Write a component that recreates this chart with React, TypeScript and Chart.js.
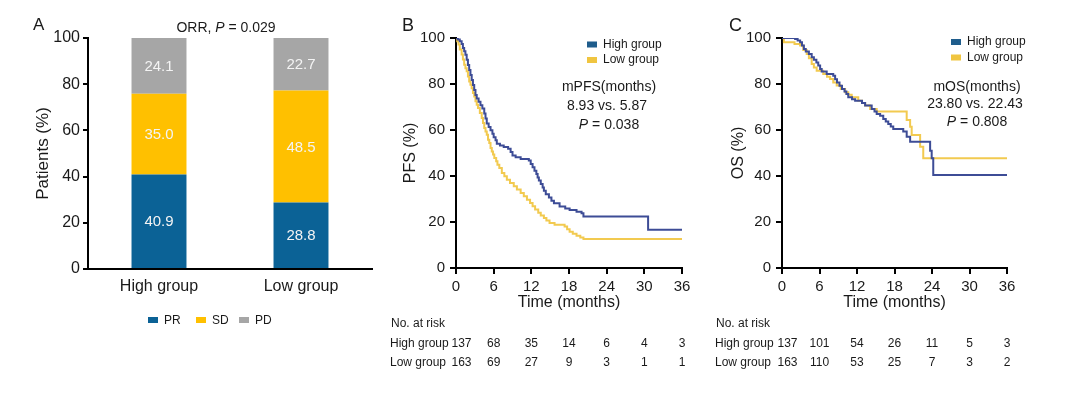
import React, { useEffect, useRef } from "react";
import { Chart, registerables } from "chart.js";
Chart.register(...registerables);

const FONT = '"Liberation Sans", Arial, Helvetica, sans-serif';
const TXT = "#1a1a1a";

// ---------- Panel A data ----------
const groups = ["High group", "Low group"];
const responseLabels = ["PR", "SD", "PD"];
const prValues = [40.9, 28.8];
const sdValues = [35.0, 48.5];
const pdValues = [24.1, 22.7];
const percentTicks = [0, 20, 40, 60, 80, 100];

// ---------- Panel B (PFS) data ----------
const pfsHighTime = [0, 0.3, 0.6, 0.9, 1.1, 1.3, 1.5, 1.7, 1.9, 2.1, 2.3, 2.5, 2.7, 2.9, 3.1, 3.3, 3.6, 3.9, 4.2, 4.5, 4.7, 4.9, 5.2, 5.5, 5.8, 6.0, 6.3, 6.5, 7.0, 7.6, 8.3, 8.7, 9.0, 9.5, 10.3, 11.6, 11.9, 12.2, 12.5, 12.8, 13.0, 13.2, 13.5, 13.8, 14.0, 14.3, 14.8, 15.2, 15.6, 16.5, 17.4, 18.1, 19.2, 20.0, 20.3, 30.6, 36];
const pfsHighSurv = [100, 99.3, 98.6, 97.4, 95.6, 94.2, 92.7, 90.5, 88.3, 86.1, 83.9, 81.7, 79.6, 77.4, 75.2, 73.7, 72.3, 70.8, 69.3, 67.2, 65.0, 62.8, 61.3, 59.9, 58.4, 56.9, 55.5, 54.0, 53.3, 52.6, 51.8, 50.4, 48.9, 48.2, 47.4, 46.7, 45.2, 43.8, 42.3, 40.9, 39.4, 38.0, 36.5, 35.0, 33.6, 32.1, 30.7, 29.2, 28.1, 26.7, 25.9, 25.2, 24.5, 23.8, 22.4, 16.6, 16.6];
const pfsLowTime = [0, 0.2, 0.4, 0.6, 0.9, 1.1, 1.3, 1.5, 1.7, 1.9, 2.1, 2.3, 2.5, 2.7, 2.9, 3.1, 3.3, 3.5, 3.8, 4.1, 4.3, 4.5, 4.7, 4.9, 5.1, 5.3, 5.5, 5.7, 5.9, 6.1, 6.4, 6.6, 6.9, 7.3, 7.7, 8.1, 8.6, 9.2, 9.7, 10.3, 10.8, 11.3, 11.8, 12.2, 12.6, 13.1, 13.5, 14.0, 14.4, 14.9, 15.7, 17.3, 17.7, 18.1, 18.6, 19.2, 19.8, 20.3, 36];
const pfsLowSurv = [100, 98.6, 97.2, 95.0, 92.8, 90.6, 88.4, 86.9, 85.5, 83.3, 81.1, 79.7, 78.2, 76.1, 74.6, 72.5, 71.0, 69.6, 67.4, 65.2, 63.0, 60.9, 59.4, 57.9, 55.8, 54.3, 52.2, 50.7, 49.3, 47.8, 46.4, 44.9, 43.5, 41.3, 39.9, 38.4, 37.0, 35.5, 34.1, 32.6, 31.2, 29.7, 28.3, 26.8, 25.4, 24.0, 22.8, 21.7, 20.6, 19.6, 18.8, 18.0, 16.9, 15.8, 14.9, 14.0, 13.3, 12.6, 12.6];

// ---------- Panel C (OS) data ----------
const osHighTime = [0, 2.1, 2.5, 2.9, 3.2, 3.5, 3.8, 4.3, 4.75, 5.1, 5.5, 5.8, 6.1, 6.35, 7.15, 8.2, 8.5, 8.8, 9.2, 9.6, 10.0, 10.3, 10.6, 11.2, 11.7, 12.8, 13.3, 14.35, 14.8, 15.15, 15.7, 16.2, 16.6, 17.0, 17.4, 17.8, 19.4, 19.95, 20.5, 23.7, 23.95, 24.2, 36];
const osHighSurv = [100, 99.6, 98.9, 98.1, 96.7, 95.2, 94.1, 93.0, 91.6, 90.5, 89.4, 88.0, 86.5, 85.4, 84.3, 83.6, 82.1, 80.7, 79.2, 77.8, 76.7, 75.6, 74.2, 73.4, 72.7, 71.7, 70.6, 69.1, 68.0, 67.0, 66.2, 64.8, 63.7, 62.6, 61.5, 60.4, 59.3, 57.1, 54.9, 51.0, 47.7, 40.4, 40.4];
const osLowTime = [0, 0.3, 2.0, 2.9, 3.4, 3.95, 4.3, 4.75, 5.1, 5.55, 6.6, 7.2, 7.7, 8.2, 8.75, 9.4, 10.1, 10.6, 11.15, 12.2, 12.8, 13.3, 14.1, 15.15, 19.95, 20.5, 20.75, 22.1, 22.6, 36];
const osLowSurv = [100, 98.1, 97.4, 96.7, 94.8, 93.0, 91.2, 88.7, 87.2, 85.8, 84.3, 83.2, 82.2, 80.7, 79.3, 77.8, 76.4, 75.3, 74.2, 72.7, 71.7, 70.6, 69.1, 68.0, 64.3, 61.4, 57.8, 52.7, 47.7, 47.7];

// ---------- Risk tables ----------
const riskTimes = [0, 6, 12, 18, 24, 30, 36];
const pfsRiskHigh = [137, 68, 35, 14, 6, 4, 3];
const pfsRiskLow = [163, 69, 27, 9, 3, 1, 1];
const osRiskHigh = [137, 101, 54, 26, 11, 5, 3];
const osRiskLow = [163, 110, 53, 25, 7, 3, 2];
const seriesNames = ["High group", "Low group"];

// ---------- Colors ----------
const PR_COLOR = "#0b6296";
const SD_COLOR = "#ffc000";
const PD_COLOR = "#a6a6a6";
const HIGH_LINE = "#3d4c96";
const LOW_LINE = "#f2ca50";
const HIGH_KEY = "#1f5d8c";
const LOW_KEY = "#f0c540";

type Part = [string, boolean];

function drawParts(ctx: CanvasRenderingContext2D, parts: Part[], cx: number, cy: number, size: number, color = TXT) {
  ctx.save();
  ctx.fillStyle = color;
  ctx.textBaseline = "middle";
  ctx.textAlign = "left";
  const fonts = parts.map(([, it]) => `${it ? "italic " : ""}${size}px ${FONT}`);
  let total = 0;
  const widths = parts.map(([t], i) => {
    ctx.font = fonts[i];
    const w = ctx.measureText(t).width;
    total += w;
    return w;
  });
  let x = cx - total / 2;
  parts.forEach(([t], i) => {
    ctx.font = fonts[i];
    ctx.fillText(t, x, cy);
    x += widths[i];
  });
  ctx.restore();
}

function drawText(ctx: CanvasRenderingContext2D, t: string, x: number, y: number, size: number, align: CanvasTextAlign = "left", color = TXT, baseline: CanvasTextBaseline = "middle") {
  ctx.save();
  ctx.font = `${size}px ${FONT}`;
  ctx.fillStyle = color;
  ctx.textAlign = align;
  ctx.textBaseline = baseline;
  ctx.fillText(t, x, y);
  ctx.restore();
}

function makeA(canvas: HTMLCanvasElement) {
  const values = [prValues, sdValues, pdValues];
  const colors = [PR_COLOR, SD_COLOR, PD_COLOR];
  const plugin = {
    id: "panelA",
    afterDatasetsDraw(chart: any) {
      const ctx = chart.ctx as CanvasRenderingContext2D;
      values.forEach((vals, i) => {
        const meta = chart.getDatasetMeta(i);
        meta.data.forEach((bar: any, j: number) => {
          const { x, y, base } = bar.getProps(["x", "y", "base"], true);
          drawText(ctx, vals[j].toFixed(1), x, (y + base) / 2 + 1, 15, "center", "#f4f4f4");
        });
      });
    },
    afterDraw(chart: any) {
      const ctx = chart.ctx as CanvasRenderingContext2D;
      drawText(ctx, "A", 33, 30, 17, "left", TXT, "alphabetic");
      drawParts(ctx, [["ORR, ", false], ["P", true], [" = 0.029", false]], 226, 28, 14);
      const keyX = [148, 196, 239];
      responseLabels.forEach((lab, i) => {
        ctx.save();
        ctx.fillStyle = colors[i];
        ctx.fillRect(keyX[i], 317, 10, 6);
        ctx.restore();
        drawText(ctx, lab, keyX[i] + 16, 320.5, 12);
      });
    },
  };
  return new Chart(canvas, {
    type: "bar",
    data: {
      labels: groups,
      datasets: responseLabels.map((lab, i) => ({
        label: lab,
        data: values[i],
        backgroundColor: colors[i],
        borderWidth: 0,
        categoryPercentage: 1,
        barPercentage: 0.387,
      })),
    },
    options: {
      animation: false,
      responsive: false,
      layout: { padding: { left: 29, right: 8, top: 38, bottom: 86 } },
      plugins: { legend: { display: false }, tooltip: { enabled: false }, title: { display: false } },
      scales: {
        x: {
          stacked: true,
          grid: { display: false, drawTicks: false },
          border: { display: true, color: "#000", width: 2 },
          ticks: { color: TXT, font: { size: 16 }, padding: 8 },
          afterFit: (s: any) => { s.height = 40; },
        },
        y: {
          stacked: true,
          min: 0,
          max: 100,
          afterBuildTicks: (s: any) => { s.ticks = percentTicks.map((v) => ({ value: v })); },
          ticks: { color: TXT, font: { size: 16 }, padding: 3 },
          grid: { display: true, drawOnChartArea: false, drawTicks: true, tickLength: 5, color: "#000", lineWidth: 2 },
          border: { display: true, color: "#000", width: 2 },
          title: { display: true, text: "Patients (%)", color: TXT, font: { size: 17 }, padding: { top: 4, bottom: 4 } },
          afterFit: (s: any) => { s.width = 59; },
        },
      },
    },
    plugins: [plugin],
  } as any);
}

interface KMCfg {
  letter: string;
  letterX: number;
  yTitle: string;
  padLeft: number;
  yWidth: number;
  padRight: number;
  highT: number[];
  highS: number[];
  lowT: number[];
  lowS: number[];
  keyX: number;
  keyY: [number, number];
  noteX: number;
  noteY: [number, number, number];
  noteTitle: string;
  noteVs: string;
  noteP: string;
  riskHigh: number[];
  riskLow: number[];
  riskLabelX: number;
}

function kmDataset(label: string, times: number[], surv: number[], color: string) {
  return {
    label,
    data: times.map((t, i) => ({ x: t, y: surv[i] })),
    borderColor: color,
    backgroundColor: color,
    borderWidth: 2,
    pointRadius: 0,
    stepped: "before",
    fill: false,
    tension: 0,
  };
}

function makeKM(canvas: HTMLCanvasElement, cfg: KMCfg) {
  const plugin = {
    id: "km" + cfg.letter,
    afterDraw(chart: any) {
      const ctx = chart.ctx as CanvasRenderingContext2D;
      drawText(ctx, cfg.letter, cfg.letterX, 31, 18, "left", TXT, "alphabetic");
      [HIGH_KEY, LOW_KEY].forEach((c, i) => {
        ctx.save();
        ctx.fillStyle = c;
        ctx.fillRect(cfg.keyX, cfg.keyY[i] - 3, 10, 6);
        ctx.restore();
        drawText(ctx, seriesNames[i], cfg.keyX + 16, cfg.keyY[i], 12);
      });
      drawText(ctx, cfg.noteTitle, cfg.noteX, cfg.noteY[0], 14, "center");
      drawText(ctx, cfg.noteVs, cfg.noteX - 2, cfg.noteY[1], 14, "center");
      drawParts(ctx, [["P", true], [" = " + cfg.noteP, false]], cfg.noteX, cfg.noteY[2], 14);
      const xs = chart.scales.x;
      drawText(ctx, "No. at risk", cfg.riskLabelX + 1, 324, 12);
      drawText(ctx, seriesNames[0], cfg.riskLabelX, 343.5, 12);
      drawText(ctx, seriesNames[1], cfg.riskLabelX, 363, 12);
      riskTimes.forEach((t, i) => {
        const px = xs.getPixelForValue(t) + (i === 0 ? 5.5 : 0);
        drawText(ctx, String(cfg.riskHigh[i]), px, 343.5, 12, "center");
        drawText(ctx, String(cfg.riskLow[i]), px, 363, 12, "center");
      });
    },
  };
  const axisGrid = { display: true, drawOnChartArea: false, drawTicks: true, tickLength: 6, color: "#000", lineWidth: 2 };
  return new Chart(canvas, {
    type: "line",
    data: {
      datasets: [
        kmDataset(seriesNames[0], cfg.highT, cfg.highS, HIGH_LINE),
        kmDataset(seriesNames[1], cfg.lowT, cfg.lowS, LOW_LINE),
      ],
    },
    options: {
      animation: false,
      responsive: false,
      layout: { padding: { left: cfg.padLeft, right: cfg.padRight, top: 38, bottom: 79 } },
      plugins: { legend: { display: false }, tooltip: { enabled: false }, title: { display: false } },
      scales: {
        x: {
          type: "linear",
          min: 0,
          max: 36,
          afterBuildTicks: (s: any) => { s.ticks = riskTimes.map((v) => ({ value: v })); },
          ticks: { color: TXT, font: { size: 15 }, padding: 4 },
          grid: axisGrid,
          border: { display: true, color: "#000", width: 2 },
          title: { display: true, text: "Time (months)", color: TXT, font: { size: 16 }, padding: { top: 4, bottom: 4 } },
          afterFit: (s: any) => { s.height = 48; },
        },
        y: {
          min: 0,
          max: 100,
          afterBuildTicks: (s: any) => { s.ticks = percentTicks.map((v) => ({ value: v })); },
          ticks: { color: TXT, font: { size: 15 }, padding: 5 },
          grid: axisGrid,
          border: { display: true, color: "#000", width: 2 },
          title: { display: true, text: cfg.yTitle, color: TXT, font: { size: 16 }, padding: { top: 4, bottom: 4 } },
          afterFit: (s: any) => { s.width = cfg.yWidth; },
        },
      },
    },
    plugins: [plugin],
  } as any);
}

export default function App() {
  const aRef = useRef<HTMLCanvasElement>(null);
  const bRef = useRef<HTMLCanvasElement>(null);
  const cRef = useRef<HTMLCanvasElement>(null);

  useEffect(() => {
    Chart.defaults.font.family = FONT;
    const charts = [
      makeA(aRef.current!),
      makeKM(bRef.current!, {
        letter: "B",
        letterX: 22,
        yTitle: "PFS (%)",
        padLeft: 17,
        yWidth: 59,
        padRight: 18,
        highT: pfsHighTime,
        highS: pfsHighSurv,
        lowT: pfsLowTime,
        lowS: pfsLowSurv,
        keyX: 207,
        keyY: [44.5, 60],
        noteX: 229,
        noteY: [87, 106, 125],
        noteTitle: "mPFS(months)",
        noteVs: "8.93 vs. 5.87",
        noteP: "0.038",
        riskHigh: pfsRiskHigh,
        riskLow: pfsRiskLow,
        riskLabelX: 10,
      }),
      makeKM(cRef.current!, {
        letter: "C",
        letterX: 29,
        yTitle: "OS (%)",
        padLeft: 25,
        yWidth: 57,
        padRight: 73,
        highT: osHighTime,
        highS: osHighSurv,
        lowT: osLowTime,
        lowS: osLowSurv,
        keyX: 251,
        keyY: [42, 57.5],
        noteX: 277,
        noteY: [87.5, 104.5, 122.5],
        noteTitle: "mOS(months)",
        noteVs: "23.80 vs. 22.43",
        noteP: "0.808",
        riskHigh: osRiskHigh,
        riskLow: osRiskLow,
        riskLabelX: 15,
      }),
    ];
    return () => charts.forEach((c) => c.destroy());
  }, []);

  return (
    <div style={{ position: "absolute", left: 0, top: 0, width: 1080, height: 395, background: "#fff", overflow: "hidden" }}>
      <canvas ref={aRef} width={380} height={395} style={{ position: "absolute", left: 0, top: 0, width: 380, height: 395 }} />
      <canvas ref={bRef} width={320} height={395} style={{ position: "absolute", left: 380, top: 0, width: 320, height: 395 }} />
      <canvas ref={cRef} width={380} height={395} style={{ position: "absolute", left: 700, top: 0, width: 380, height: 395 }} />
    </div>
  );
}
